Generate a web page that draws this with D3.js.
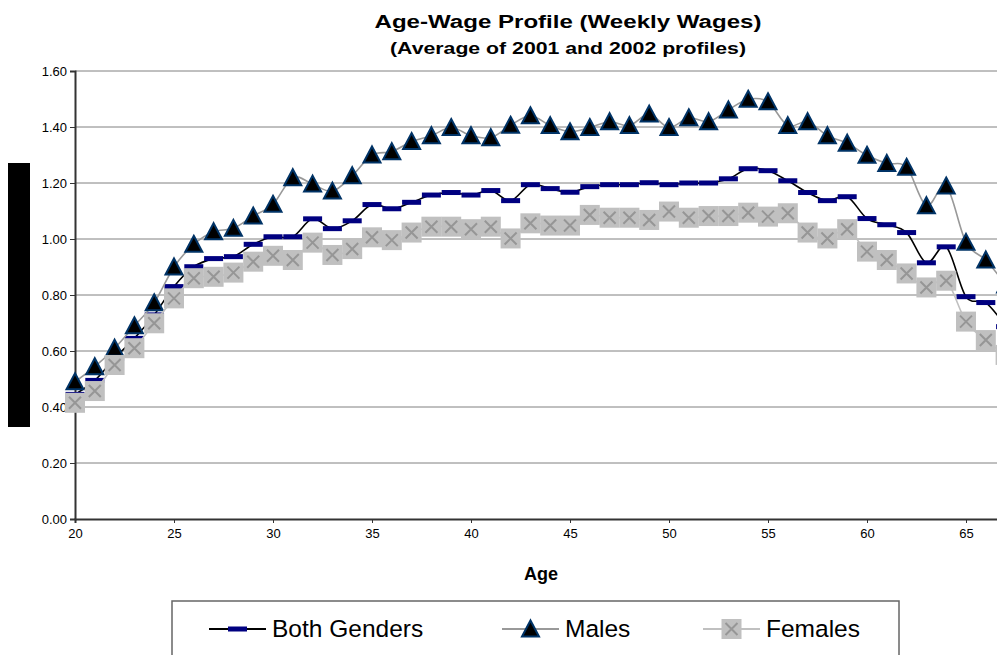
<!DOCTYPE html>
<html>
<head>
<meta charset="utf-8">
<script src="https://cdn.jsdelivr.net/npm/d3@7"></script>
<style>
  body { margin: 0; background: #fff; }
  svg { display: block; font-family: Arial, "Liberation Sans", sans-serif; }
</style>
</head>
<body>
<svg id="chart" width="997" height="655"></svg>
<script>
// ages 20..67 (chart is cut at the right edge)
const ages = d3.range(20, 68);
const both = [0.445, 0.495, 0.574, 0.645, 0.729, 0.83, 0.901, 0.93, 0.937, 0.981,
  1.008, 1.008, 1.072, 1.037, 1.065, 1.123, 1.108, 1.131, 1.157, 1.166,
  1.157, 1.173, 1.137, 1.194, 1.18, 1.167, 1.187, 1.194, 1.194, 1.201,
  1.194, 1.2, 1.2, 1.215, 1.251, 1.244, 1.208, 1.166, 1.137, 1.151,
  1.073, 1.051, 1.023, 0.915, 0.972, 0.794, 0.773, 0.687];
const males = [0.49, 0.544, 0.61, 0.69, 0.772, 0.9, 0.981, 1.026, 1.038, 1.082,
  1.124, 1.219, 1.196, 1.171, 1.226, 1.3, 1.312, 1.348, 1.369, 1.398,
  1.369, 1.362, 1.406, 1.44, 1.405, 1.383, 1.398, 1.419, 1.405, 1.446,
  1.398, 1.433, 1.419, 1.461, 1.499, 1.49, 1.405, 1.419, 1.369, 1.342,
  1.299, 1.27, 1.256, 1.119, 1.189, 0.988, 0.925, 0.836];
const females = [0.415, 0.457, 0.55, 0.61, 0.699, 0.788, 0.86, 0.865, 0.88, 0.919,
  0.94, 0.925, 0.987, 0.943, 0.964, 1.006, 0.996, 1.023, 1.044, 1.044,
  1.035, 1.044, 1.002, 1.056, 1.048, 1.048, 1.086, 1.076, 1.076, 1.068,
  1.098, 1.076, 1.082, 1.082, 1.094, 1.08, 1.092, 1.023, 1.002, 1.035,
  0.955, 0.925, 0.877, 0.827, 0.851, 0.705, 0.639, 0.586];
const yTicks = [0, 0.2, 0.4, 0.6, 0.8, 1.0, 1.2, 1.4, 1.6];
const xTicks = [20, 25, 30, 35, 40, 45, 50, 55, 60, 65];
const seriesNames = ["Both Genders", "Males", "Females"];

const svg = d3.select("#chart");
const W = 997;
const x = d3.scaleLinear().domain([20, 70]).range([75, 75 + 50 * 19.8]);
const y = d3.scaleLinear().domain([0, 1.6]).range([519, 71]);

svg.append("clipPath").attr("id", "plotclip")
  .append("rect").attr("x", 0).attr("y", 0).attr("width", W).attr("height", 540);

// titles (text is drawn wide in the original)
svg.append("text").attr("x", 568).attr("y", 28).attr("text-anchor", "middle")
  .attr("font-weight", "bold").attr("font-size", 18)
  .attr("textLength", 387).attr("lengthAdjust", "spacingAndGlyphs")
  .text("Age-Wage Profile (Weekly Wages)");
svg.append("text").attr("x", 568).attr("y", 54).attr("text-anchor", "middle")
  .attr("font-weight", "bold").attr("font-size", 16.5)
  .attr("textLength", 356).attr("lengthAdjust", "spacingAndGlyphs")
  .text("(Average of 2001 and 2002 profiles)");

// redacted y-axis title
svg.append("rect").attr("x", 8).attr("y", 163).attr("width", 22).attr("height", 264).attr("fill", "#000");

// gridlines
svg.append("g").selectAll("line").data(yTicks.filter(d => d > 0)).join("line")
  .attr("x1", 75).attr("x2", W).attr("y1", d => y(d)).attr("y2", d => y(d))
  .attr("stroke", "#808080").attr("stroke-width", 1);

// axes
const yAxis = svg.append("g").attr("transform", "translate(75,0)")
  .call(d3.axisLeft(y).tickValues(yTicks).tickFormat(d3.format(".2f")).tickSize(5).tickPadding(3));
const xAxis = svg.append("g").attr("transform", "translate(0,519)")
  .call(d3.axisBottom(x).tickValues(xTicks).tickFormat(d3.format("d")).tickSize(4).tickPadding(6));
[yAxis, xAxis].forEach(a => {
  a.select(".domain").attr("stroke", "#333").attr("stroke-width", 2);
  a.selectAll(".tick line").attr("stroke", "#333");
  a.selectAll("text").attr("font-size", 13).attr("fill", "#000")
    .attr("font-family", "Arial, 'Liberation Sans', sans-serif");
});

svg.append("text").attr("x", 541).attr("y", 580).attr("text-anchor", "middle")
  .attr("font-weight", "bold").attr("font-size", 18).text("Age");

const plot = svg.append("g").attr("clip-path", "url(#plotclip)");
const line = d3.line().x((d, i) => x(ages[i])).y(d => y(d)).curve(d3.curveCatmullRom.alpha(0));

const triPath = "M0,-8.5L8.5,7.5L-8.5,7.5Z";

function drawDash(g) {
  g.append("rect").attr("x", -9.5).attr("y", -2.5).attr("width", 19).attr("height", 5).attr("fill", "#000080");
}
function drawTri(g) {
  g.append("path").attr("d", triPath).attr("fill", "#000").attr("stroke", "#003366").attr("stroke-width", 2);
}
function drawBox(g) {
  g.append("rect").attr("x", -10).attr("y", -10).attr("width", 20).attr("height", 20).attr("fill", "#c0c0c0");
  g.append("path").attr("d", "M-6,-6L6,6M6,-6L-6,6").attr("stroke", "#969696").attr("stroke-width", 2);
}

const series = [
  { name: seriesNames[0], vals: both, color: "#000", marker: drawDash },
  { name: seriesNames[1], vals: males, color: "#999", marker: drawTri },
  { name: seriesNames[2], vals: females, color: "#c0c0c0", marker: drawBox }
];

series.forEach(s => {
  plot.append("path").attr("d", line(s.vals)).attr("fill", "none")
    .attr("stroke", s.color).attr("stroke-width", 1.6);
  plot.append("g").selectAll("g").data(s.vals).join("g")
    .attr("transform", (d, i) => `translate(${x(ages[i])},${y(d)})`)
    .each(function () { s.marker(d3.select(this)); });
});

// legend
svg.append("rect").attr("x", 172).attr("y", 601).attr("width", 727).attr("height", 70)
  .attr("fill", "#fff").attr("stroke", "#666").attr("stroke-width", 1.5);
const legendX = [209, 502, 703];
series.forEach((s, i) => {
  const g = svg.append("g").attr("transform", `translate(${legendX[i]},629)`);
  g.append("line").attr("x1", 0).attr("x2", 57).attr("stroke", s.color).attr("stroke-width", 2);
  const m = g.append("g").attr("transform", "translate(28.5,0)");
  s.marker(m);
  g.append("text").attr("x", 63).attr("y", 8).attr("font-size", 24.5).attr("fill", "#000").text(s.name);
});
</script>
</body>
</html>
